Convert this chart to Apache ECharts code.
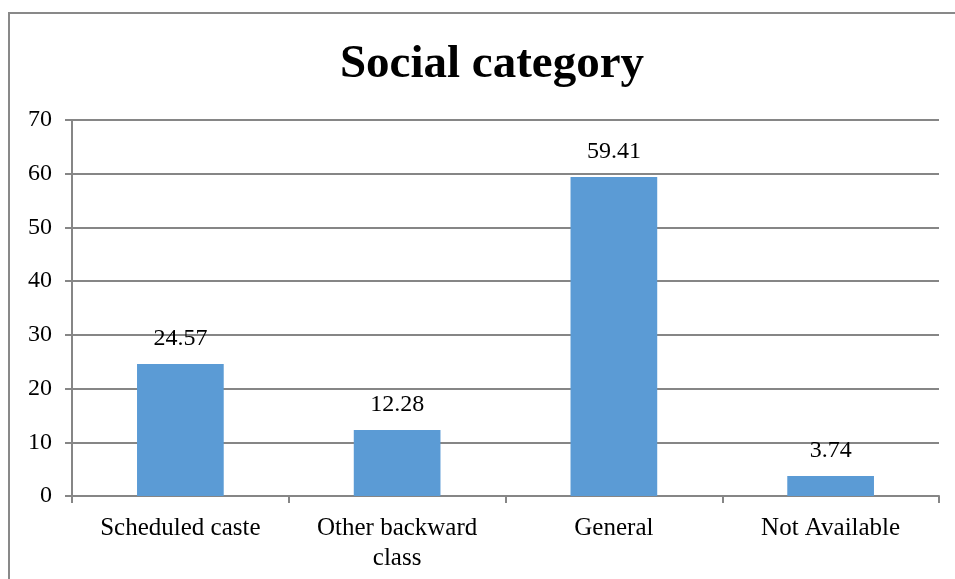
<!DOCTYPE html>
<html>
<head>
<meta charset="utf-8">
<script src="https://cdn.jsdelivr.net/npm/echarts@6/dist/echarts.min.js"></script>
<style>
  html, body { margin: 0; padding: 0; background: #fff; }
  #frame { position: absolute; left: 8px; top: 12px; width: 960px; height: 600px; border: 2px solid #898989; box-sizing: border-box; }
  #chart { position: absolute; left: 0; top: 0; width: 955px; height: 579px; }
</style>
</head>
<body>
<div id="frame"></div>
<div id="chart"></div>
<script>
// Share of respondents by social category (%)
const categories = ['Scheduled caste', 'Other backward\nclass', 'General', 'Not Available'];
const shares = [24.57, 12.28, 59.41, 3.74];
const yTicks = { min: 0, max: 70, interval: 10 };

const chart = echarts.init(document.getElementById('chart'), null, { renderer: 'canvas' });
const serif = '"Liberation Serif", "DejaVu Serif", serif';

chart.setOption({
  animation: false,
  title: {
    text: 'Social category',
    left: 487,
    top: 36,
    textAlign: 'center',
    textStyle: { fontFamily: serif, fontSize: 47, fontWeight: 'bold', color: '#000' }
  },
  grid: { left: 72, right: 16, top: 120, bottom: 83, containLabel: false },
  xAxis: {
    type: 'category',
    data: categories,
    axisLine: { lineStyle: { color: '#868686', width: 2 } },
    axisTick: { show: true, length: 7, lineStyle: { color: '#868686', width: 2 } },
    axisLabel: { fontFamily: serif, fontSize: 25, color: '#000', margin: 17, lineHeight: 30 }
  },
  yAxis: {
    type: 'value',
    min: yTicks.min,
    max: yTicks.max,
    interval: yTicks.interval,
    axisLine: { show: true, lineStyle: { color: '#868686', width: 2 } },
    axisTick: { show: true, length: 7, lineStyle: { color: '#868686', width: 2 } },
    axisLabel: { fontFamily: serif, fontSize: 24, color: '#000', margin: 20 },
    splitLine: { lineStyle: { color: '#868686', width: 2 } }
  },
  series: [{
    type: 'bar',
    data: shares,
    barWidth: '40%',
    itemStyle: { color: '#5B9BD5' },
    label: {
      show: true,
      position: 'top',
      distance: 13,
      fontFamily: serif,
      fontSize: 24,
      color: '#000',
      formatter: p => p.value.toFixed(2)
    }
  }]
});
</script>
</body>
</html>
